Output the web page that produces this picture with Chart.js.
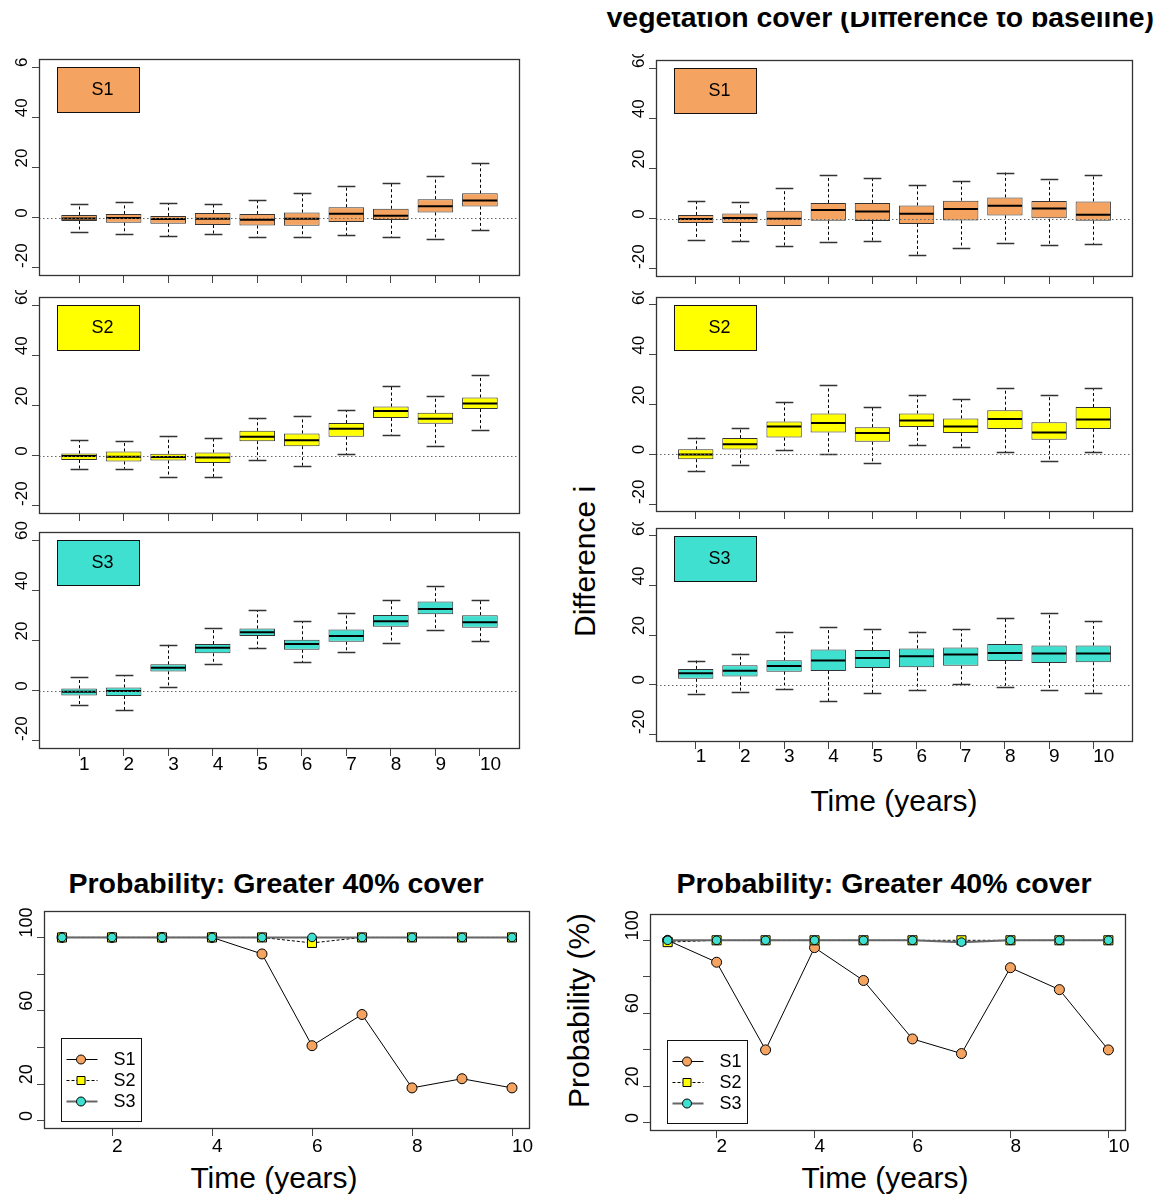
<!DOCTYPE html>
<html>
<head>
<meta charset="utf-8">
<script src="https://cdn.jsdelivr.net/npm/chart.js@4.4.1/dist/chart.umd.min.js"></script>
<style>
body { margin: 0; background: #fff; }
#page { position: relative; width: 1165px; height: 1195px; overflow: hidden; font-family: "Liberation Sans", Arial, sans-serif; color: #000; }
canvas { position: absolute; }
.txt { position: absolute; white-space: nowrap; }
.clip { position: absolute; overflow: hidden; }
.rot { transform-origin: 0 0; transform: rotate(-90deg); }
</style>
</head>
<body>
<div id="page">
  <div class="clip" style="left:590px;top:12px;width:575px;height:30px;">
    <div class="txt" style="left:15px;top:-9px;font:bold 28.4px/28.4px 'Liberation Sans';">Vegetation cover (Difference to baseline)</div>
  </div>
  <div class="clip" style="left:560px;top:486px;width:45px;height:155px;">
    <div class="txt rot" style="left:9.6px;top:151px;font:30px/30px 'Liberation Sans';">Difference i</div>
  </div>
  <div class="txt" style="left:744px;top:785.6px;width:300px;text-align:center;font:30px/30px 'Liberation Sans';">Time (years)</div>

  <div class="txt" style="left:26px;top:869.4px;width:500px;text-align:center;font:bold 28.5px/28.5px 'Liberation Sans';">Probability: Greater 40% cover</div>
  <div class="txt" style="left:634px;top:869.4px;width:500px;text-align:center;font:bold 28.5px/28.5px 'Liberation Sans';">Probability: Greater 40% cover</div>
  <div class="txt rot" style="left:564.1px;top:1108px;font:30px/30px 'Liberation Sans';">Probability (%)</div>
  <div class="txt" style="left:124px;top:1163.1px;width:300px;text-align:center;font:30px/30px 'Liberation Sans';">Time (years)</div>
  <div class="txt" style="left:735px;top:1163.1px;width:300px;text-align:center;font:30px/30px 'Liberation Sans';">Time (years)</div>

  <canvas id="cL1" width="560" height="230" style="left:0px;top:57px;"></canvas>
  <canvas id="cL2" width="560" height="234" style="left:0px;top:290px;"></canvas>
  <canvas id="cL3" width="560" height="262" style="left:0px;top:518px;"></canvas>
  <canvas id="cR1" width="565" height="231" style="left:600px;top:54px;"></canvas>
  <canvas id="cR2" width="565" height="231" style="left:600px;top:291px;"></canvas>
  <canvas id="cR3" width="565" height="248" style="left:600px;top:522px;"></canvas>
  <canvas id="cP1" width="560" height="262" style="left:0px;top:898px;"></canvas>
  <canvas id="cP2" width="565" height="262" style="left:600px;top:898px;"></canvas>
</div>
<script>
Chart.defaults.font.family = "'Liberation Sans', Arial, sans-serif";
Chart.defaults.color = '#000';

const years = [1, 2, 3, 4, 5, 6, 7, 8, 9, 10];
const boxYTicks = [-20, 0, 20, 40, 60];
const boxYMin = -23.2;
const boxYMax = 63.2;
const boxXMin = 0.1;
const boxXMax = 10.9;

const probXTicks = [2, 4, 6, 8, 10];
const probYTicks = [0, 20, 40, 60, 80, 100];
const probYLabels = ['0', '20', '', '60', '', '100'];
const probYMin = -4.4;
const probYMax = 114.4;
const probXMin = 0.64;
const probXMax = 10.36;

const scenarioNames = ['S1', 'S2', 'S3'];
const scenarioColors = ['#F4A460', '#FFFF00', '#40E0D0'];

// left column, S1
const l1Low = [-5.6, -6.5, -7.4, -6.5, -7.6, -7.8, -6.9, -7.8, -8.4, -5.0];
const l1Q1 = [-1.3, -2.0, -2.4, -2.9, -3.1, -3.2, -1.7, -0.9, 2.1, 4.5];
const l1Med = [-0.3, -0.1, -0.5, -0.4, -0.8, -0.4, 1.6, 0.8, 4.6, 6.9];
const l1Q3 = [1.1, 1.5, 0.7, 1.9, 1.5, 2.1, 4.2, 3.6, 7.4, 9.7];
const l1High = [5.4, 6.1, 5.7, 5.4, 6.9, 9.8, 12.5, 13.7, 16.5, 21.6];

// left column, S2
const l2Low = [-5.4, -5.2, -8.6, -8.4, -1.6, -4.2, 0.5, 8.2, 3.8, 10.3];
const l2Q1 = [-1.7, -2.3, -1.9, -2.9, 5.8, 3.8, 7.6, 15.0, 12.7, 18.6];
const l2Med = [-0.1, -0.4, -0.5, -0.7, 7.6, 6.2, 10.7, 17.8, 14.7, 20.8];
const l2Q3 = [0.9, 1.7, 0.8, 1.3, 9.9, 8.9, 13.0, 19.6, 17.1, 23.2];
const l2High = [6.2, 5.8, 7.7, 6.9, 14.9, 15.9, 18.2, 27.6, 23.7, 32.0];

// left column, S3
const l3Low = [-5.7, -7.8, 1.3, 10.5, 17.0, 11.3, 15.5, 19.0, 24.0, 19.8];
const l3Q1 = [-1.9, -2.1, 7.7, 14.9, 21.8, 16.3, 19.5, 25.5, 30.5, 25.1];
const l3Med = [-0.4, -0.1, 9.2, 17.1, 23.3, 18.6, 21.8, 27.7, 32.5, 27.3];
const l3Q3 = [0.9, 1.3, 10.5, 18.6, 24.8, 20.3, 24.4, 30.2, 35.5, 30.1];
const l3High = [5.3, 6.2, 18.3, 24.8, 32.0, 27.7, 30.9, 36.1, 41.8, 36.2];

// right column, S1
const r1Low = [-8.3, -8.8, -10.8, -9.1, -8.8, -14.5, -11.5, -9.7, -10.4, -10.0];
const r1Q1 = [-1.7, -1.7, -2.9, -0.8, -0.9, -2.1, -0.7, 1.3, 0.0, -0.8];
const r1Med = [-0.1, 0.3, 0.0, 3.5, 2.9, 2.0, 3.9, 5.2, 4.1, 1.6];
const r1Q3 = [1.5, 2.1, 3.2, 6.3, 6.3, 5.3, 7.2, 8.5, 7.1, 6.9];
const r1High = [7.2, 6.7, 12.1, 17.3, 16.4, 13.4, 14.9, 18.4, 15.7, 17.3];

// right column, S2
const r2Low = [-6.7, -4.4, 1.9, 0.1, -3.5, 3.6, 3.0, 0.8, -2.8, 0.8];
const r2Q1 = [-2.0, 1.9, 6.7, 8.7, 5.0, 11.0, 8.5, 10.2, 5.8, 10.2];
const r2Med = [-0.1, 4.0, 11.2, 12.6, 8.5, 13.6, 11.2, 14.2, 8.7, 14.0];
const r2Q3 = [2.0, 6.5, 13.2, 16.4, 10.9, 16.4, 14.4, 17.7, 12.9, 19.0];
const r2High = [6.7, 10.5, 21.1, 27.8, 18.8, 23.9, 22.2, 26.6, 23.7, 26.6];

// right column, S3
const r3Low = [-3.9, -2.9, -1.7, -6.8, -3.6, -2.3, 0.1, -1.1, -2.4, -3.6];
const r3Q1 = [2.3, 3.2, 5.2, 5.5, 6.7, 7.0, 7.6, 9.5, 8.7, 9.0];
const r3Med = [4.6, 5.6, 7.5, 9.7, 10.7, 11.4, 12.1, 12.7, 12.5, 12.5];
const r3Q3 = [6.3, 7.8, 9.8, 14.1, 13.9, 14.6, 15.0, 16.4, 15.8, 15.8];
const r3High = [9.7, 12.5, 21.3, 23.1, 22.4, 21.4, 22.4, 26.9, 28.7, 25.6];

// probability of more than 40% cover
const probLeftS1 = [100, 100, 100, 100, 91, 41, 58, 18, 23, 18];
const probLeftS2 = [100, 100, 100, 100, 100, 97, 100, 100, 100, 100];
const probLeftS3 = [100, 100, 100, 100, 100, 100, 100, 100, 100, 100];
const probRightS1 = [100, 88, 40, 96, 78, 46, 38, 85, 73, 40];
const probRightS2 = [99, 100, 100, 100, 100, 100, 100, 100, 100, 100];
const probRightS3 = [100, 100, 100, 100, 100, 100, 99, 100, 100, 100];

const FRAME = '#333';
const TICK_LEN = 7;

function fixedTicks(values) {
    return (scale) => {
        scale.ticks = values.map((v) => ({ value: v }));
    };
}

function axisGrid() {
    return { drawOnChartArea: false, drawTicks: true, tickLength: TICK_LEN, color: '#444', lineWidth: 1, offset: false };
}

function drawFrame(ctx, a) {
    ctx.save();
    ctx.strokeStyle = FRAME;
    ctx.lineWidth = 1.3;
    ctx.strokeRect(Math.round(a.left) + 0.5, Math.round(a.top) + 0.5,
        Math.round(a.right - a.left) - 1, Math.round(a.bottom - a.top) - 1);
    ctx.restore();
}

// R style y labels: parallel to the axis, starting at the tick
function drawYLabels(ctx, a, yScale, values, labels, size) {
    ctx.save();
    ctx.fillStyle = '#000';
    ctx.font = `${size}px 'Liberation Sans', Arial, sans-serif`;
    ctx.textAlign = 'left';
    ctx.textBaseline = 'alphabetic';
    values.forEach((v, i) => {
        if (!labels[i]) return;
        ctx.save();
        ctx.translate(a.left - 12.5, yScale.getPixelForValue(v));
        ctx.rotate(-Math.PI / 2);
        ctx.fillText(labels[i], 0, 0);
        ctx.restore();
    });
    ctx.restore();
}

function boxOverlay(p) {
    return {
        id: 'boxOverlay',
        afterDatasetsDraw(chart) {
            const { ctx, chartArea: a, scales: { x, y } } = chart;
            const unit = x.getPixelForValue(2) - x.getPixelForValue(1);
            const capHalf = unit * 0.2;
            const boxHalf = unit * 0.4;
            ctx.save();
            ctx.strokeStyle = '#000';
            ctx.lineWidth = 1;
            years.forEach((t, i) => {
                const cx = Math.round(x.getPixelForValue(t)) + 0.5;
                const yLo = y.getPixelForValue(p.lo[i]);
                const yQ1 = y.getPixelForValue(p.q1[i]);
                const yQ3 = y.getPixelForValue(p.q3[i]);
                const yHi = y.getPixelForValue(p.hi[i]);
                ctx.strokeStyle = '#000';
                ctx.lineWidth = 1;
                ctx.setLineDash([3, 2.5]);
                ctx.beginPath();
                ctx.moveTo(cx, yQ3);
                ctx.lineTo(cx, yHi);
                ctx.moveTo(cx, yQ1);
                ctx.lineTo(cx, yLo);
                ctx.stroke();
                ctx.setLineDash([]);
                ctx.strokeStyle = '#333';
                ctx.lineWidth = 1.5;
                ctx.beginPath();
                ctx.moveTo(cx - capHalf, Math.round(yHi) + 0.5);
                ctx.lineTo(cx + capHalf, Math.round(yHi) + 0.5);
                ctx.moveTo(cx - capHalf, Math.round(yLo) + 0.5);
                ctx.lineTo(cx + capHalf, Math.round(yLo) + 0.5);
                ctx.stroke();
            });
            ctx.strokeStyle = '#000';
            ctx.lineWidth = 2;
            years.forEach((t, i) => {
                const cx = x.getPixelForValue(t);
                const ym = y.getPixelForValue(p.med[i]);
                ctx.beginPath();
                ctx.moveTo(cx - boxHalf + 0.5, ym);
                ctx.lineTo(cx + boxHalf - 0.5, ym);
                ctx.stroke();
            });
            // dotted zero line
            const y0 = Math.round(y.getPixelForValue(0)) + 0.5;
            ctx.strokeStyle = '#666';
            ctx.lineWidth = 1;
            ctx.setLineDash([1.5, 2.5]);
            ctx.beginPath();
            ctx.moveTo(a.left, y0);
            ctx.lineTo(a.right, y0);
            ctx.stroke();
            ctx.setLineDash([]);
            // legend box
            const lx = Math.round(x.getPixelForValue(0.5)) + 0.5;
            const ly = Math.round(y.getPixelForValue(60)) + 0.5;
            ctx.fillStyle = p.fill;
            ctx.strokeStyle = '#111';
            ctx.fillRect(lx, ly, 82, 45);
            ctx.strokeRect(lx, ly, 82, 45);
            ctx.fillStyle = '#000';
            ctx.font = "18px 'Liberation Sans', Arial, sans-serif";
            ctx.textAlign = 'left';
            ctx.textBaseline = 'middle';
            ctx.fillText(p.name, lx + 34, ly + 23);
            ctx.restore();
        },
        afterDraw(chart) {
            const { ctx, chartArea: a, scales: { y } } = chart;
            drawFrame(ctx, a);
            drawYLabels(ctx, a, y, boxYTicks, boxYTicks.map(String), 17);
        }
    };
}

const boxPanels = [
    { id: 'cL1', x: 0, y: 57, frame: [39, 59, 520, 276], k: 0, lo: l1Low, q1: l1Q1, med: l1Med, q3: l1Q3, hi: l1High, xLabels: false, xPad: 0 },
    { id: 'cL2', x: 0, y: 290, frame: [39, 297, 520, 514], k: 1, lo: l2Low, q1: l2Q1, med: l2Med, q3: l2Q3, hi: l2High, xLabels: false, xPad: 0 },
    { id: 'cL3', x: 0, y: 518, frame: [39, 532, 520, 749], k: 2, lo: l3Low, q1: l3Q1, med: l3Med, q3: l3Q3, hi: l3High, xLabels: true, xPad: -3 },
    { id: 'cR1', x: 600, y: 54, frame: [656, 60, 1133, 277], k: 0, lo: r1Low, q1: r1Q1, med: r1Med, q3: r1Q3, hi: r1High, xLabels: false, xPad: 0 },
    { id: 'cR2', x: 600, y: 291, frame: [656, 297, 1133, 512], k: 1, lo: r2Low, q1: r2Q1, med: r2Med, q3: r2Q3, hi: r2High, xLabels: false, xPad: 0 },
    { id: 'cR3', x: 600, y: 522, frame: [656, 528, 1133, 742], k: 2, lo: r3Low, q1: r3Q1, med: r3Med, q3: r3Q3, hi: r3High, xLabels: true, xPad: -3.5 }
];

function makeBoxChart(p) {
    const canvas = document.getElementById(p.id);
    const [fl, ft, fr, fb] = p.frame;
    const yW = fl - p.x;
    const xH = p.y + canvas.height - fb;
    p.fill = scenarioColors[p.k];
    p.name = scenarioNames[p.k];
    return new Chart(canvas, {
        type: 'bar',
        data: {
            datasets: [{
                data: years.map((t, i) => ({ x: t, y: [p.q1[i], p.q3[i]] })),
                backgroundColor: p.fill,
                borderColor: '#333',
                borderWidth: 1,
                borderSkipped: false,
                barPercentage: 0.8,
                categoryPercentage: 1
            }]
        },
        options: {
            responsive: false,
            animation: false,
            devicePixelRatio: 1,
            layout: { autoPadding: false, padding: { top: ft - p.y, right: p.x + canvas.width - fr, left: 0, bottom: 0 } },
            plugins: { legend: { display: false }, tooltip: { enabled: false } },
            scales: {
                x: {
                    type: 'linear',
                    offset: false,
                    min: boxXMin,
                    max: boxXMax,
                    afterBuildTicks: fixedTicks(years),
                    afterFit: (s) => { s.height = xH; },
                    ticks: { display: p.xLabels, align: 'start', padding: p.xPad, autoSkip: false, maxRotation: 0, font: { size: 19 }, color: '#000' },
                    grid: axisGrid(),
                    border: { display: false }
                },
                y: {
                    min: boxYMin,
                    max: boxYMax,
                    afterBuildTicks: fixedTicks(boxYTicks),
                    afterFit: (s) => { s.width = yW; },
                    ticks: { display: false },
                    grid: axisGrid(),
                    border: { display: false }
                }
            }
        },
        plugins: [boxOverlay(p)]
    });
}

function probOverlay() {
    return {
        id: 'probOverlay',
        afterDraw(chart) {
            const { ctx, chartArea: a, scales: { y } } = chart;
            drawFrame(ctx, a);
            drawYLabels(ctx, a, y, probYTicks, probYLabels, 18);
            // legend
            const bx = Math.round(a.left) + 17.5;
            const bh = 83;
            const by = Math.round(a.bottom) - 8 - bh + 0.5;
            ctx.save();
            ctx.fillStyle = '#fff';
            ctx.fillRect(bx, by, 80, bh);
            ctx.strokeStyle = '#111';
            ctx.lineWidth = 1;
            ctx.strokeRect(bx, by, 80, bh);
            chart.data.datasets.forEach((ds, k) => {
                const ly = by + 21 + k * 21;
                ctx.strokeStyle = ds.borderColor;
                ctx.lineWidth = ds.borderWidth;
                ctx.setLineDash(ds.borderDash || []);
                ctx.beginPath();
                ctx.moveTo(bx + 5, ly);
                ctx.lineTo(bx + 36, ly);
                ctx.stroke();
                ctx.setLineDash([]);
                ctx.fillStyle = ds.pointBackgroundColor;
                ctx.strokeStyle = '#000';
                ctx.lineWidth = 1;
                ctx.beginPath();
                if (ds.pointStyle === 'rect') {
                    ctx.rect(bx + 15.5, ly - 4, 8, 8);
                } else {
                    ctx.arc(bx + 19.5, ly, 4.5, 0, Math.PI * 2);
                }
                ctx.fill();
                ctx.stroke();
                ctx.fillStyle = '#000';
                ctx.font = "18px 'Liberation Sans', Arial, sans-serif";
                ctx.textAlign = 'left';
                ctx.textBaseline = 'middle';
                ctx.fillText(ds.label, bx + 52, ly + 1);
            });
            ctx.restore();
        }
    };
}

function makeProbChart(id, left, top, frame, s1, s2, s3, xPad) {
    const canvas = document.getElementById(id);
    const [fl, ft, fr, fb] = frame;
    const yW = fl - left;
    const xH = top + canvas.height - fb;
    const series = [s1, s2, s3];
    const lineColors = ['#000', '#000', '#666'];
    const lineWidths = [1, 1, 2];
    const dashes = [[], [3, 2], []];
    const styles = ['circle', 'rect', 'circle'];
    const radii = [5, 6.4, 4.3];
    return new Chart(canvas, {
        type: 'line',
        data: {
            datasets: series.map((vals, k) => ({
                label: scenarioNames[k],
                data: years.map((t, i) => ({ x: t, y: vals[i] })),
                borderColor: lineColors[k],
                borderWidth: lineWidths[k],
                borderDash: dashes[k],
                pointStyle: styles[k],
                pointRadius: radii[k],
                pointBackgroundColor: scenarioColors[k],
                pointBorderColor: '#000',
                pointBorderWidth: 1,
                tension: 0,
                fill: false,
                order: 3 - k
            }))
        },
        options: {
            responsive: false,
            animation: false,
            devicePixelRatio: 1,
            layout: { autoPadding: false, padding: { top: ft - top, right: left + canvas.width - fr, left: 0, bottom: 0 } },
            plugins: { legend: { display: false }, tooltip: { enabled: false } },
            scales: {
                x: {
                    type: 'linear',
                    offset: false,
                    min: probXMin,
                    max: probXMax,
                    afterBuildTicks: fixedTicks(probXTicks),
                    afterFit: (s) => { s.height = xH; },
                    ticks: { align: 'start', padding: xPad, autoSkip: false, maxRotation: 0, font: { size: 19 }, color: '#000' },
                    grid: axisGrid(),
                    border: { display: false }
                },
                y: {
                    min: probYMin,
                    max: probYMax,
                    afterBuildTicks: fixedTicks(probYTicks),
                    afterFit: (s) => { s.width = yW; },
                    ticks: { display: false },
                    grid: axisGrid(),
                    border: { display: false }
                }
            }
        },
        plugins: [probOverlay()]
    });
}

boxPanels.forEach(makeBoxChart);
makeProbChart('cP1', 0, 898, [44, 911, 530, 1129], probLeftS1, probLeftS2, probLeftS3, -0.5);
makeProbChart('cP2', 600, 898, [650, 914, 1126, 1131], probRightS1, probRightS2, probRightS3, -2.5);
</script>
</body>
</html>
